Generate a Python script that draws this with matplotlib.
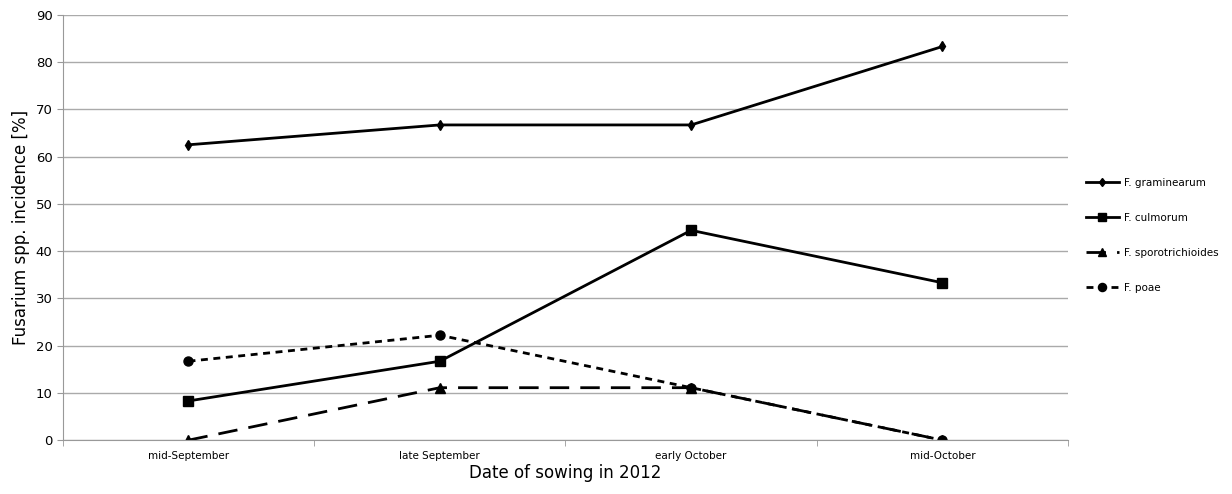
import matplotlib
matplotlib.use('Agg')
import matplotlib.pyplot as plt
import numpy as np

dates = ['mid-September', 'late September', 'early October', 'mid-October']
graminearum = [62.5, 66.7, 66.7, 83.3]
culmorum = [8.3, 16.7, 44.4, 33.3]
sporotrichioides = [0, 11.1, 11.1, 0]
poae = [16.7, 22.2, 11.1, 0]

fig = plt.figure(figsize=(12.32, 4.94), dpi=100)
ax = fig.add_axes([0.051, 0.109, 0.816, 0.861])

x = np.arange(len(dates))
ax.plot(x, graminearum, color='black', lw=2, marker='d', ms=5, label='F. graminearum')
ax.plot(x, culmorum, color='black', lw=2, marker='s', ms=6.5, label='F. culmorum')
ax.plot(x, sporotrichioides, color='black', lw=2, ls=(0, (7, 4)), marker='^', ms=6.5,
        label='F. sporotrichioides')
ax.plot(x, poae, color='black', lw=2, ls=(0, (2.5, 2)), marker='o', ms=6.5, label='F. poae')

ax.set_xlim(-0.5, 3.5)
ax.set_ylim(0, 90)
ax.set_yticks(range(0, 91, 10))
ax.set_xticks(x)
ax.set_xticklabels(dates, fontsize=7.5)
ax.set_xticks(np.arange(-0.5, 4, 1), minor=True)
ax.tick_params(axis='x', which='major', length=0, pad=8)
ax.tick_params(axis='x', which='minor', length=4, color='#999999')
ax.tick_params(axis='y', labelsize=9.5, length=4, color='#999999')

ax.grid(axis='y', color='#aaaaaa', lw=1)
ax.set_axisbelow(True)
for s in ['top', 'right']:
    ax.spines[s].set_visible(False)
for s in ['left', 'bottom']:
    ax.spines[s].set_color('#999999')

ax.set_xlabel('Date of sowing in 2012', fontsize=12, labelpad=2)
ax.set_ylabel('Fusarium spp. incidence [%]', fontsize=12)

ax.legend(loc='center left', bbox_to_anchor=(1.008, 0.482), frameon=False, fontsize=7.5,
          handlelength=3.2, labelspacing=2.4, handletextpad=0.5, markerscale=0.9)

plt.savefig('out.png')
